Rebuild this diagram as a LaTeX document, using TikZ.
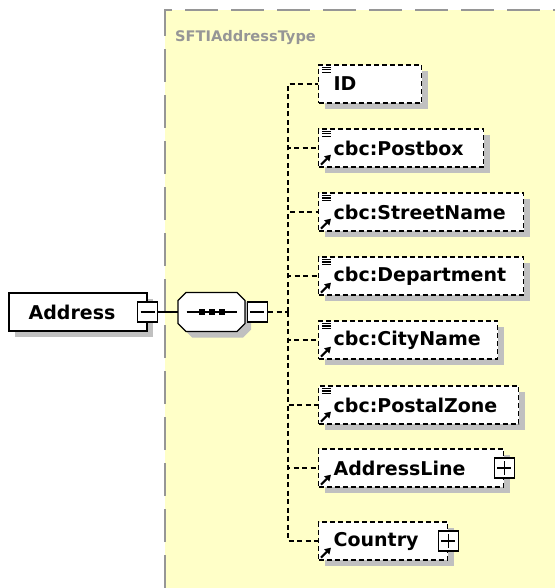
\documentclass[tikz,border=0pt]{standalone}
\usepackage{fontspec}
\setmainfont{DejaVu Sans}
\usetikzlibrary{positioning,shadows,arrows.meta}

\definecolor{typebg}{RGB}{255,255,200}
\definecolor{typeline}{RGB}{150,150,150}
\definecolor{shadowgray}{RGB}{192,192,192}

% outline of the sequence compositor, top left corner at (#1,#2)
\newcommand{\seqoutline}[2]{(#1+8,#2) -- (#1+59,#2) -- (#1+67,#2+8) -- (#1+67,#2+31) -- (#1+59,#2+39) -- (#1+8,#2+39) -- (#1,#2+31) -- (#1,#2+8) -- cycle}

\tikzset{
	elem/.style={draw, fill=white, line width=1.3pt, minimum height=38pt,
		font=\fontsize{19}{22}\selectfont\bfseries,
		drop shadow={shadow xshift=6pt, shadow yshift=-6pt, fill=shadowgray, opacity=1}},
	optelem/.style={elem, dash pattern=on 5pt off 3pt, anchor=west, inner xsep=15pt, align=left},
	togglebox/.style={draw, fill=white, line width=1.3pt, minimum size=20pt, inner sep=0pt},
	minusbox/.style={togglebox, path picture={
		\draw[line width=1.3pt] ([xshift=3pt]path picture bounding box.west) -- ([xshift=-3pt]path picture bounding box.east);}},
	plusbox/.style={togglebox, path picture={
		\draw[line width=1.3pt] ([xshift=3pt]path picture bounding box.west) -- ([xshift=-3pt]path picture bounding box.east);
		\draw[line width=1.3pt] ([yshift=-3pt]path picture bounding box.north) -- ([yshift=3pt]path picture bounding box.south);}},
	link/.style={line width=1.3pt, dash pattern=on 5pt off 3.5pt},
	refarrow/.style={line width=2pt, -{Triangle[length=6pt,width=7pt]}}
}

\begin{document}
\begin{tikzpicture}[x=1pt, y=-1pt]
	\useasboundingbox (0,0) rectangle (555,588);
	
	% complex type area
	\fill[typebg] (165,10) rectangle (555,588);
	\draw[typeline, line width=2pt, dash pattern=on 33pt off 13pt] (165,588) -- (165,10) -- (555,10);
	\node[anchor=west, inner sep=0pt, text=typeline, font=\fontsize{14.6}{17}\selectfont\bfseries] (title) at (175,38) {SFTIAddressType};
	
	% root element and sequence
	\node[elem, minimum width=138pt] (address) at (78,312) {Address\hspace*{12pt}};
	\node[minusbox] (addrminus) at (address.east) {};
	\fill[shadowgray] \seqoutline{184}{298.5};
	\draw[fill=white, line width=1.3pt] \seqoutline{178}{292.5};
	\node[minimum width=67pt, minimum height=39pt, inner sep=0pt] (seq) at (211.5,312) {};
	\node[minusbox, right=1.5pt of seq] (seqminus) {};
	\draw[line width=1.3pt] ([xshift=-25pt]seq.center) -- ([xshift=25pt]seq.center);
	\foreach \dx in {-10,0,10}
		\fill ([xshift=\dx pt]seq.center) +(-3,-3) rectangle +(3,3);
	
	% children
	\node[optelem, text width=73pt] (id) at (318,84) {ID};
	\node[optelem, text width=135pt] (postbox) at (318,148) {cbc:Postbox};
	\node[optelem, text width=175pt] (street) at (318,212) {cbc:StreetName};
	\node[optelem, text width=175pt] (dept) at (318,276) {cbc:Department};
	\node[optelem, text width=149pt] (city) at (318,340) {cbc:CityName};
	\node[optelem, text width=170pt] (postal) at (318,405) {cbc:PostalZone};
	\node[optelem, text width=155pt] (addrline) at (318,468) {AddressLine};
	\node[optelem, text width=99pt] (country) at (318,541) {Country};
	\node[plusbox] (addrlineplus) at (addrline.east) {};
	\node[plusbox] (countryplus) at (country.east) {};
	
	% icons
	\foreach \c in {id,postbox,street,dept,city,postal}
		\foreach \dy in {3,5.5,8}
			\draw[line width=1.3pt] ([shift={(4,\dy)}]\c.north west) -- +(9,0);
	\foreach \c in {postbox,street,dept,city,postal,addrline,country}
		\draw[refarrow] ([shift={(3,-3)}]\c.south west) -- +(10,-10);
	
	% connectors
	\coordinate (fork) at (288,312);
	\draw[line width=1.3pt] (addrminus) -- (seq);
	\draw[link] (seqminus) -- (fork);
	\foreach \c in {id,postbox,street,dept,city,postal,addrline,country}
		\draw[link] (fork) |- (\c);
\end{tikzpicture}
\end{document}
